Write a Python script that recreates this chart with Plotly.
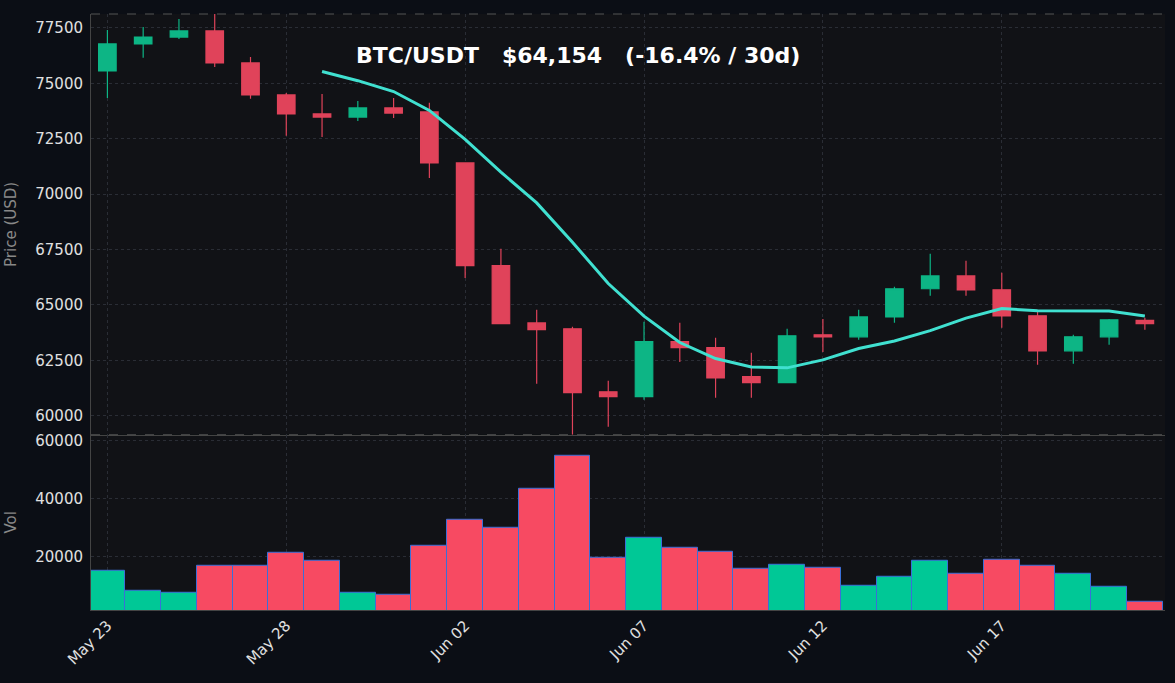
import pandas as pd
import plotly.graph_objects as go
from plotly.subplots import make_subplots

dates = pd.date_range("2024-05-23", periods=30, freq="D")
opens  = [75560,76780,77090,77365,75920,74480,73620,73480,73890,73710,71410,66770,64190,63920,61080,
          60860,63340,63070,61760,61490,63650,63560,64460,65730,66310,65680,64510,62930,63560,64300]
closes = [76780,77090,77365,75920,74480,73620,73480,73890,73660,71410,66770,64150,63880,61040,60860,
          63340,63070,61710,61490,63610,63560,64460,65730,66310,65680,64510,62930,63560,64330,64150]
highs  = [77410,77545,77900,78130,76190,74570,74520,74200,74340,74120,71410,67530,64780,64010,61580,
          64240,64200,63520,62840,63920,64370,64780,65820,67310,66990,66450,64690,63650,64370,64420]
lows   = [74343,76150,77000,75740,74300,72630,72580,73300,73440,70730,66220,64150,61440,59140,59500,
          60720,62430,60810,60810,61490,62880,63430,64200,65410,65410,63970,62300,62340,63200,63880]
volumes = [15170,8280,7590,16900,16900,21380,18620,7590,6900,23790,32760,30000,43450,54830,19660,
           26550,23100,21720,15860,17240,16210,10000,13100,18620,14140,18970,16900,14140,9660,4480]

ma = pd.Series(closes).rolling(7).mean()
GREEN, RED = "#0db585", "#e0435a"
VG, VR = "#00c896", "#f74a62"
vcolors = [VG if c >= o else VR for o, c in zip(opens, closes)]

fig = make_subplots(rows=2, cols=1, shared_xaxes=True, vertical_spacing=0,
                    row_heights=[0.706, 0.294])
fig.add_trace(go.Candlestick(x=dates, open=opens, high=highs, low=lows, close=closes,
                             increasing=dict(line=dict(color=GREEN, width=1.2), fillcolor=GREEN),
                             decreasing=dict(line=dict(color=RED, width=1.2), fillcolor=RED),
                             whiskerwidth=0, showlegend=False), row=1, col=1)
fig.add_trace(go.Scatter(x=dates, y=ma, mode="lines", line=dict(color="#40e0d0", width=3),
                         showlegend=False), row=1, col=1)
fig.add_trace(go.Bar(x=dates, y=volumes, marker=dict(color=vcolors, line=dict(color="#3a6fd8", width=1)),
                     width=86400000, showlegend=False), row=2, col=1)

grid = dict(gridcolor="#2a2d35", griddash="dot", zeroline=False, linecolor="#444",
            tickfont=dict(color="#e0e0e0", size=15), title_font=dict(color="#888", size=15))
fig.update_xaxes(range=["2024-05-22 13:00", "2024-06-21 13:30"], rangeslider_visible=False,
                 tickformat="%b %d", dtick=5*86400000, tick0="2024-05-23", tickangle=-45,
                 showspikes=False, **grid)
fig.update_yaxes(ticklabelstandoff=4, **grid)
fig.update_yaxes(range=[59140, 78130], tickvals=[60000,62500,65000,67500,70000,72500,75000,77500],
                 tickformat="d", title_text="Price (USD)", row=1, col=1)
fig.update_yaxes(range=[1700, 62070], tickvals=[20000,40000,60000], tickformat="d",
                 title_text="Vol", row=2, col=1)

fig.add_shape(type="line", xref="paper", yref="paper", x0=0, x1=1, y0=1, y1=1,
              line=dict(color="#555", dash="dash", width=1))
fig.add_shape(type="line", xref="paper", yref="paper", x0=0, x1=1, y0=0.294, y1=0.294,
              line=dict(color="#555", dash="dash", width=1))
fig.add_annotation(text="<b>BTC/USDT   $64,154   (-16.4% / 30d)</b>", xref="paper", yref="paper",
                   x=0.245, y=0.93, xanchor="left", yanchor="middle", showarrow=False,
                   font=dict(color="white", size=22, family="DejaVu Sans"))
fig.update_layout(width=1175, height=683, paper_bgcolor="#0b0e15", plot_bgcolor="#111216",
                  margin=dict(l=91, r=10, t=14, b=73), bargap=0,
                  font=dict(family="DejaVu Sans", color="#e0e0e0"))
fig.write_html("out.html", config={"displayModeBar": False},
               post_script="document.body.style.margin='0';document.body.style.background='#0b0e15';")
